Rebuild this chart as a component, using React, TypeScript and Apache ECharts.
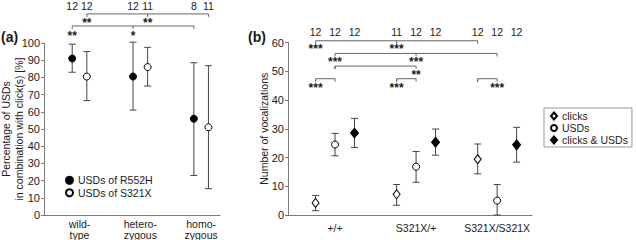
import React, { useEffect, useRef } from "react";
import * as echarts from "echarts";

// ---------- Panel (a) ----------
const groupsA = ["wild-\ntype", "hetero-\nzygous", "homo-\nzygous"];
const r552hMean = [91, 80.5, 56];
const r552hLow = [83, 61, 23];
const r552hHigh = [99.3, 100.5, 88.5];
const s321xMean = [80.5, 86, 51];
const s321xLow = [66.5, 75, 15.3];
const s321xHigh = [95, 97.5, 86.8];
const nR552H = ["12", "12", "8"];
const nS321X = ["12", "11", "11"];

// ---------- Panel (b) ----------
const groupsB = ["+/+", "S321X/+", "S321X/S321X"];
const clicksMean = [4.2, 7.2, 19.4];
const clicksLow = [1.5, 3.4, 14.3];
const clicksHigh = [6.8, 10.6, 24.7];
const usdsMean = [24.5, 16.8, 5.0];
const usdsLow = [20.6, 11.4, 0];
const usdsHigh = [28.4, 22.1, 10.6];
const bothMean = [28.5, 25.3, 24.4];
const bothLow = [23.5, 20.8, 18.4];
const bothHigh = [33.6, 29.9, 30.5];
const nClicks = ["12", "11", "12"];
const nUsds = ["12", "12", "12"];
const nBoth = ["12", "12", "12"];

// significance annotations: slots are [group, seriesIndex]
const bracketsA = [
  { from: [0, 1], to: [2, 1], mid: [1, 1], y: 116.9 },
  { from: [0, 0], to: [2, 0], mid: [1, 0], y: 109.9 },
];
const starsA = [
  { at: [0, 1], y: 111.6, text: "**" },
  { at: [1, 1], y: 111.6, text: "**" },
  { at: [0, 0], y: 104.0, text: "**" },
  { at: [1, 0], y: 104.0, text: "*" },
];
const countYA = 121.5;

const bracketsB = [
  { from: [0, 0], to: [2, 0], mid: [1, 0], y: 60.6 },
  { from: [0, 1], to: [2, 1], mid: [1, 1], y: 56.2 },
  { from: [0, 1], to: [1, 1], mid: null, y: 51.8 },
  { from: [0, 0], to: [0, 1], mid: null, y: 47.4 },
  { from: [1, 0], to: [1, 1], mid: null, y: 47.4 },
  { from: [2, 0], to: [2, 1], mid: null, y: 47.4 },
];
const starsB = [
  { at: [0, 0], y: 57.7, text: "***" },
  { at: [1, 0], y: 57.7, text: "***" },
  { at: [0, 1], y: 53.2, text: "***" },
  { at: [1, 1], y: 53.2, text: "***" },
  { at: [1, 1], y: 48.7, text: "**" },
  { at: [0, 0], y: 44.1, text: "***" },
  { at: [1, 0], y: 44.1, text: "***" },
  { at: [2, 1], y: 44.1, text: "***" },
];
const countYB = 63.7;

const OFF_A = [-0.12, 0.12];
const OFF_B = [-0.24, 0, 0.24];
const slotA = (s: number[]) => s[0] + OFF_A[s[1]];
const slotB = (s: number[]) => s[0] + OFF_B[s[1]];

const AXIS_COLOR = "#7a7a7a";
const BAR_COLOR = "#444";
const TEXT_COLOR = "#1a1a1a";
const FONT = "Liberation Sans, Arial, sans-serif";

function errRender(half: number) {
  return (_p: any, api: any) => {
    const x = api.value(0);
    const lo = api.coord([x, api.value(1)]);
    const hi = api.coord([x, api.value(2)]);
    const s = { stroke: BAR_COLOR, lineWidth: 1 };
    return {
      type: "group",
      children: [
        { type: "line", shape: { x1: lo[0], y1: lo[1], x2: hi[0], y2: hi[1] }, style: s },
        { type: "line", shape: { x1: hi[0] - half, y1: hi[1], x2: hi[0] + half, y2: hi[1] }, style: s },
        { type: "line", shape: { x1: lo[0] - half, y1: lo[1], x2: lo[0] + half, y2: lo[1] }, style: s },
      ],
    };
  };
}

function bracketRender(_p: any, api: any) {
  const yv = api.value(2);
  const a = api.coord([api.value(0), yv]);
  const b = api.coord([api.value(1), yv]);
  const m = api.coord([api.value(3), yv]);
  const t = 3;
  const s = { stroke: "#666", lineWidth: 1 };
  return {
    type: "group",
    children: [
      { type: "line", shape: { x1: a[0], y1: a[1], x2: b[0], y2: b[1] }, style: s },
      { type: "line", shape: { x1: a[0], y1: a[1], x2: a[0], y2: a[1] + t }, style: s },
      { type: "line", shape: { x1: b[0], y1: b[1], x2: b[0], y2: b[1] + t }, style: s },
      { type: "line", shape: { x1: m[0], y1: m[1], x2: m[0], y2: m[1] + t }, style: s },
    ],
  };
}

function textSeries(xi: number, items: { x: number; y: number; text: string }[], size: number, weight: string) {
  return {
    type: "custom",
    xAxisIndex: xi,
    yAxisIndex: xi,
    clip: false,
    silent: true,
    z: 5,
    data: items.map((it) => [it.x, it.y]),
    renderItem: (p: any, api: any) => {
      const c = api.coord([api.value(0), api.value(1)]);
      return {
        type: "text",
        x: c[0],
        y: c[1],
        style: {
          text: items[p.dataIndex].text,
          textAlign: "center",
          textVerticalAlign: "middle",
          fontSize: size,
          fontWeight: weight,
          fontFamily: FONT,
          fill: TEXT_COLOR,
        },
      };
    },
  };
}

export default function App() {
  const ref = useRef<HTMLDivElement>(null);
  useEffect(() => {
    if (!ref.current) return;
    const chart = echarts.init(ref.current, undefined, { renderer: "svg" });

    const countItemsA = [
      ...nR552H.map((t, i) => ({ x: slotA([i, 0]), y: countYA, text: t })),
      ...nS321X.map((t, i) => ({ x: slotA([i, 1]), y: countYA, text: t })),
    ];
    const countItemsB = [
      ...nClicks.map((t, i) => ({ x: slotB([i, 0]), y: countYB, text: t })),
      ...nUsds.map((t, i) => ({ x: slotB([i, 1]), y: countYB, text: t })),
      ...nBoth.map((t, i) => ({ x: slotB([i, 2]), y: countYB, text: t })),
    ];
    const starItemsA = starsA.map((s) => ({ x: slotA(s.at), y: s.y, text: s.text }));
    const starItemsB = starsB.map((s) => ({ x: slotB(s.at), y: s.y, text: s.text }));

    const yAxisBase = {
      type: "value",
      axisLine: { show: true, onZero: false, lineStyle: { color: AXIS_COLOR } },
      axisTick: { show: true, length: 3, lineStyle: { color: AXIS_COLOR } },
      splitLine: { show: false },
      axisLabel: { fontSize: 11, color: TEXT_COLOR, fontFamily: FONT, margin: 4 },
      nameLocation: "middle",
      nameMoveOverlap: false,
      nameTextStyle: { fontSize: 10.5, color: TEXT_COLOR, fontFamily: FONT, lineHeight: 12.5 },
    };
    const xAxisBase = {
      type: "value",
      axisLine: { show: true, onZero: false, lineStyle: { color: AXIS_COLOR } },
      axisTick: { show: false },
      splitLine: { show: false },
    };

    const mkScatter = (name: string, xi: number, xs: number[], ys: number[], symbol: string, size: any, fill: string) => ({
      name,
      type: "scatter",
      xAxisIndex: xi,
      yAxisIndex: xi,
      z: 4,
      symbol,
      symbolSize: size,
      itemStyle: { color: fill, borderColor: "#000", borderWidth: 1, opacity: 1 },
      data: ys.map((v, i) => [xs[i], v]),
    });

    const option: any = {
      animation: false,
      textStyle: { fontFamily: FONT },
      grid: [
        { left: 44, top: 43, width: 176, height: 172, outerBoundsMode: "none" },
        { left: 288, top: 42.5, width: 244, height: 172.5, outerBoundsMode: "none" },
      ],
      xAxis: [
        {
          ...xAxisBase,
          gridIndex: 0,
          min: -0.584,
          max: 2.31,
          axisLabel: {
            customValues: [0, 1, 2],
            formatter: (v: number) => groupsA[Math.round(v)],
            fontSize: 10.5,
            lineHeight: 10.5,
            color: TEXT_COLOR,
            fontFamily: FONT,
            margin: 4,
          },
        },
        {
          ...xAxisBase,
          gridIndex: 1,
          min: -0.58,
          max: 2.43,
          axisLabel: {
            customValues: [0, 1, 2],
            formatter: (v: number) => groupsB[Math.round(v)],
            fontSize: 10.5,
            color: TEXT_COLOR,
            fontFamily: FONT,
            margin: 7,
          },
        },
      ],
      yAxis: [
        {
          ...yAxisBase,
          gridIndex: 0,
          min: 0,
          max: 100,
          interval: 10,
          name: "Percentage of USDs\nin combination with click(s) [%]",
          nameGap: 19,
        },
        {
          ...yAxisBase,
          gridIndex: 1,
          min: 0,
          max: 60,
          interval: 10,
          name: "Number of vocalizations",
          nameGap: 18,
        },
      ],
      legend: [
        {
          data: ["USDs of R552H", "USDs of S321X"],
          orient: "vertical",
          left: 65,
          top: 174,
          padding: 0,
          itemWidth: 7,
          itemHeight: 7,
          itemGap: 0,
          textStyle: { fontSize: 10.5, color: TEXT_COLOR, fontFamily: FONT, lineHeight: 12.5 },
        },
        {
          data: ["clicks", "USDs", "clicks & USDs"],
          orient: "vertical",
          left: 544,
          top: 108,
          padding: [2, 4, 1, 6],
          borderColor: "#999",
          borderWidth: 1,
          itemWidth: 6,
          itemHeight: 7,
          itemGap: 0,
          textStyle: { fontSize: 10.5, color: TEXT_COLOR, fontFamily: FONT, lineHeight: 12 },
        },
      ],
      graphic: [
        { type: "text", left: 1, top: 30, style: { text: "(a)", fontSize: 14, fontWeight: "bold", fill: TEXT_COLOR, fontFamily: FONT } },
        { type: "text", left: 248, top: 30, style: { text: "(b)", fontSize: 14, fontWeight: "bold", fill: TEXT_COLOR, fontFamily: FONT } },
      ],
      series: [
        // panel (a) error bars
        {
          type: "custom", xAxisIndex: 0, yAxisIndex: 0, clip: false, silent: true, z: 2,
          data: groupsA.map((_, i) => [slotA([i, 0]), r552hLow[i], r552hHigh[i]]),
          renderItem: errRender(3.5),
        },
        {
          type: "custom", xAxisIndex: 0, yAxisIndex: 0, clip: false, silent: true, z: 2,
          data: groupsA.map((_, i) => [slotA([i, 1]), s321xLow[i], s321xHigh[i]]),
          renderItem: errRender(3.5),
        },
        mkScatter("USDs of R552H", 0, groupsA.map((_, i) => slotA([i, 0])), r552hMean, "circle", 7, "#000"),
        mkScatter("USDs of S321X", 0, groupsA.map((_, i) => slotA([i, 1])), s321xMean, "circle", 7, "#fff"),
        // panel (b) error bars
        {
          type: "custom", xAxisIndex: 1, yAxisIndex: 1, clip: false, silent: true, z: 2,
          data: groupsB.map((_, i) => [slotB([i, 0]), clicksLow[i], clicksHigh[i]]),
          renderItem: errRender(3.5),
        },
        {
          type: "custom", xAxisIndex: 1, yAxisIndex: 1, clip: false, silent: true, z: 2,
          data: groupsB.map((_, i) => [slotB([i, 1]), usdsLow[i], usdsHigh[i]]),
          renderItem: errRender(3.5),
        },
        {
          type: "custom", xAxisIndex: 1, yAxisIndex: 1, clip: false, silent: true, z: 2,
          data: groupsB.map((_, i) => [slotB([i, 2]), bothLow[i], bothHigh[i]]),
          renderItem: errRender(3.5),
        },
        mkScatter("clicks", 1, groupsB.map((_, i) => slotB([i, 0])), clicksMean, "diamond", [7, 9], "#fff"),
        mkScatter("USDs", 1, groupsB.map((_, i) => slotB([i, 1])), usdsMean, "circle", 7, "#fff"),
        mkScatter("clicks & USDs", 1, groupsB.map((_, i) => slotB([i, 2])), bothMean, "diamond", [8, 10], "#000"),
        // brackets
        {
          type: "custom", xAxisIndex: 0, yAxisIndex: 0, clip: false, silent: true, z: 3,
          data: bracketsA.map((b) => [slotA(b.from), slotA(b.to), b.y, slotA(b.mid ? b.mid : b.from)]),
          renderItem: bracketRender,
        },
        {
          type: "custom", xAxisIndex: 1, yAxisIndex: 1, clip: false, silent: true, z: 3,
          data: bracketsB.map((b) => [slotB(b.from), slotB(b.to), b.y, slotB(b.mid ? b.mid : b.from)]),
          renderItem: bracketRender,
        },
        textSeries(0, countItemsA, 10.5, "normal"),
        textSeries(1, countItemsB, 10.5, "normal"),
        textSeries(0, starItemsA, 12, "bold"),
        textSeries(1, starItemsB, 12, "bold"),
      ],
    };
    chart.setOption(option);
    return () => chart.dispose();
  }, []);
  return (
    <div
      ref={ref}
      style={{ position: "fixed", left: 0, top: 0, width: 636, height: 240, background: "#fff" }}
    />
  );
}
